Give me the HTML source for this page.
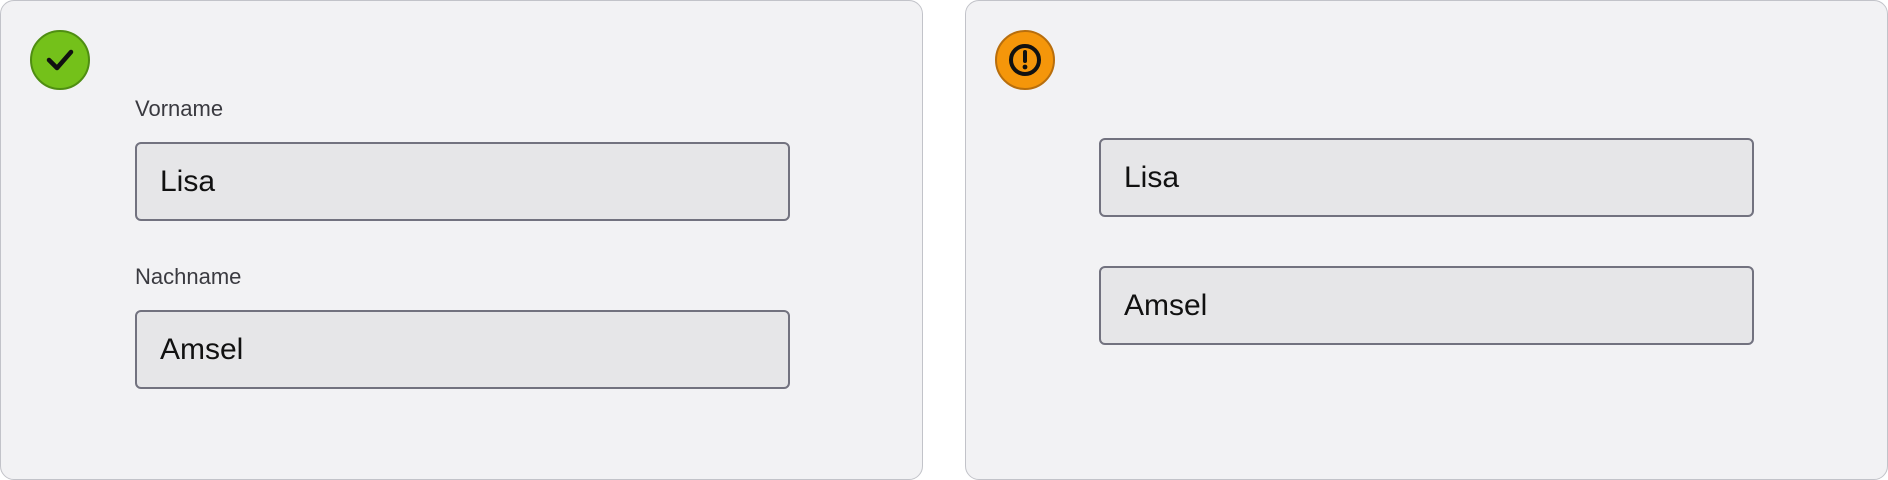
<!DOCTYPE html>
<html><head><meta charset="utf-8"><style>
body{margin:0;width:1888px;height:480px;background:#fff;position:relative;font-family:"Liberation Sans",sans-serif;overflow:hidden}
.card{position:absolute;top:0;width:923px;background:#f2f2f4;border:1.5px solid #c2c3c9;border-radius:14px;box-sizing:border-box;height:480px}
.ic{position:absolute;left:29px;top:29px;width:60px;height:60px;border-radius:50%;box-sizing:border-box}
.inp{position:absolute;background:#e6e6e8;border:2px solid #72727f;border-radius:6px;box-sizing:border-box;width:655px;height:79px;font-size:30px;color:#111;padding-left:23px;line-height:75px}
.lbl{position:absolute;font-size:22px;color:#3a3a40}
</style></head><body>
<div class="card" style="left:0">
 <div class="ic" style="background:#74c11a;border:2px solid #4f8e12">
  <svg width="56" height="56" viewBox="0 0 56 56"><path d="M17 28 L25 36 L39 20" fill="none" stroke="#111" stroke-width="4.5" stroke-linecap="round" stroke-linejoin="round"/></svg>
 </div>
 <div class="lbl" style="left:134px;top:95px">Vorname</div>
 <div class="inp" style="left:134px;top:141px">Lisa</div>
 <div class="lbl" style="left:134px;top:263px">Nachname</div>
 <div class="inp" style="left:134px;top:309px">Amsel</div>
</div>
<div class="card" style="left:965px">
 <div class="ic" style="background:#f5960a;border:2px solid #b86e0c">
  <svg width="56" height="56" viewBox="0 0 56 56"><circle cx="28" cy="28" r="14" fill="none" stroke="#111" stroke-width="4"/><path d="M28 20 L28 29" stroke="#111" stroke-width="4" stroke-linecap="round"/><circle cx="28" cy="35" r="2.4" fill="#111"/></svg>
 </div>
 <div class="inp" style="left:133px;top:137px">Lisa</div>
 <div class="inp" style="left:133px;top:265px">Amsel</div>
</div>
</body></html>
